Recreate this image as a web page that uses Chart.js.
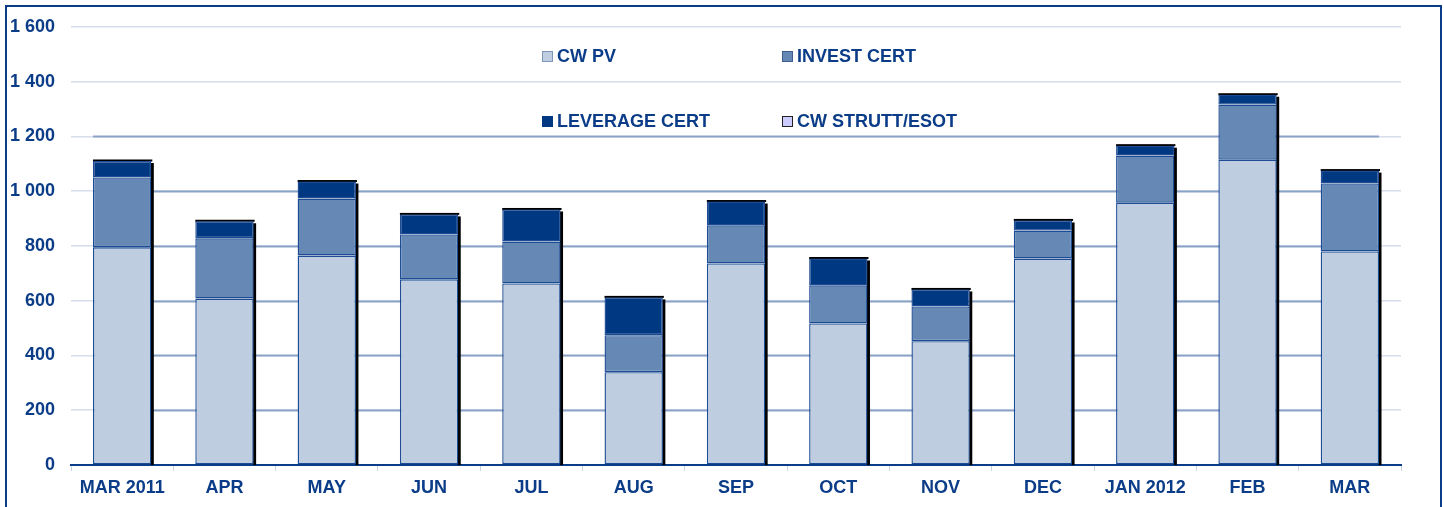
<!DOCTYPE html>
<html>
<head>
<meta charset="utf-8">
<script src="https://cdn.jsdelivr.net/npm/chart.js@4.4.1/dist/chart.umd.min.js"></script>
<style>
    html, body { margin: 0; padding: 0; background: #fff; }
    .wrap { position: relative; width: 1444px; height: 507px; overflow: hidden; }
    .frame {
        position: absolute; left: 5px; top: 5px; width: 1433px; height: 600px;
        border: 2px solid #0B3C87; pointer-events: none;
    }
    .legend {
        position: absolute; left: 542px; top: 45px;
        display: grid; grid-template-columns: 240px 240px; grid-auto-rows: 65px;
        font: bold 18px "Liberation Sans", Arial, sans-serif; color: #0B3C87;
    }
    .legend div { display: flex; align-items: center; height: 22px; }
    .legend span.box { display: inline-block; width: 9px; height: 9px; margin-right: 4px; }
</style>
</head>
<body>
<div class="wrap">
    <canvas id="chart"></canvas>
    <div class="legend" id="legend"></div>
    <div class="frame"></div>
</div>
<script>
// 数据
const months = ['MAR 2011', 'APR', 'MAY', 'JUN', 'JUL', 'AUG', 'SEP', 'OCT', 'NOV', 'DEC', 'JAN 2012', 'FEB', 'MAR'];
const cwPv = [795, 608, 765, 678, 663, 339, 736, 517, 452, 754, 958, 1115, 780];
const investCert = [255, 220, 208, 164, 153, 135, 139, 139, 127, 102, 172, 201, 248];
const leverageCert = [60, 62, 62, 73, 117, 138, 87, 98, 62, 37, 36, 36, 47];
const cwStrutt = [0, 0, 0, 0, 0, 0, 0, 0, 0, 0, 0, 0, 0];
const yTicks = [0, 200, 400, 600, 800, 1000, 1200, 1400, 1600];
const darkGridValues = [200, 400, 600, 800, 1000, 1200];

const textColor = '#0B3C87';
const font18 = { family: '"Liberation Sans", Arial, sans-serif', size: 18, weight: 'bold' };

const series = [
    { label: 'CW PV', data: cwPv, fill: '#BFCDE0', box: '#7F96B8' },
    { label: 'INVEST CERT', data: investCert, fill: '#6688B4', box: '#3F5F8C' },
    { label: 'LEVERAGE CERT', data: leverageCert, fill: '#003882', box: '#003882' },
    { label: 'CW STRUTT/ESOT', data: cwStrutt, fill: '#CCCCFF', box: '#222' }
];

function fmt(v) {
    return String(v).replace(/\B(?=(\d{3})+(?!\d))/g, ' ');
}

// 背景深色网格线 + 柱子阴影
const decoPlugin = {
    id: 'deco',
    beforeDatasetsDraw(chart) {
        const ctx = chart.ctx;
        const y = chart.scales.y;
        const first = chart.getDatasetMeta(0).data[0];
        const last = chart.getDatasetMeta(0).data[months.length - 1];
        const x0 = first.x - first.width / 2;
        const x1 = last.x + last.width / 2;
        ctx.save();
        ctx.strokeStyle = '#8BA3C7';
        ctx.lineWidth = 2;
        darkGridValues.forEach(v => {
            const py = Math.round(y.getPixelForValue(v)) + 0.5;
            ctx.beginPath();
            ctx.moveTo(x0, py);
            ctx.lineTo(x1, py);
            ctx.stroke();
        });
        // 阴影
        ctx.fillStyle = '#000';
        months.forEach((m, i) => {
            const bar = chart.getDatasetMeta(0).data[i];
            const total = cwPv[i] + investCert[i] + leverageCert[i] + cwStrutt[i];
            const top = y.getPixelForValue(total);
            const base = y.getPixelForValue(0);
            const left = bar.x - bar.width / 2;
            const right = bar.x + bar.width / 2;
            ctx.fillRect(left, top - 1.5, right - left + 1, 2);
            ctx.fillRect(right - 0.5, top + 2, 3, base - top - 2);
        });
        ctx.restore();
    }
};

const chart = new Chart(document.getElementById('chart'), {
    type: 'bar',
    data: {
        labels: months,
        datasets: series.map(s => ({
            label: s.label,
            data: s.data,
            backgroundColor: s.fill,
            borderColor: '#1E4C94',
            borderWidth: s.data.some(v => v > 0) ? 1.4 : 0,
            borderSkipped: false,
            categoryPercentage: 1,
            barPercentage: 0.57
        }))
    },
    options: {
        responsive: true,
        maintainAspectRatio: false,
        animation: false,
        layout: { padding: { top: 26, right: 43, left: 0, bottom: 0 } },
        plugins: {
            legend: { display: false },
            tooltip: { enabled: false }
        },
        scales: {
            x: {
                stacked: true,
                grid: { drawOnChartArea: false, color: '#C9D5E5', tickLength: 6, lineWidth: 1 },
                border: { color: textColor, width: 2 },
                ticks: { color: textColor, font: font18, padding: 6, maxRotation: 0 },
                afterFit(scale) { scale.height = 42; }
            },
            y: {
                stacked: true,
                min: 0,
                max: 1600,
                afterBuildTicks(scale) { scale.ticks = yTicks.map(v => ({ value: v })); },
                grid: {
                    drawTicks: false,
                    color: ctx => ctx.tick && ctx.tick.value === 0 ? 'rgba(0,0,0,0)' : '#D5DEEA',
                    lineWidth: 1.5
                },
                border: { display: false },
                ticks: { color: textColor, font: font18, padding: 16, callback: v => fmt(v) },
                afterFit(scale) { scale.width = 71; }
            }
        }
    },
    plugins: [decoPlugin]
});

// 图例
const legend = document.getElementById('legend');
series.forEach(s => {
    const item = document.createElement('div');
    const box = document.createElement('span');
    box.className = 'box';
    box.style.background = s.fill;
    box.style.border = '1px solid ' + s.box;
    item.appendChild(box);
    item.appendChild(document.createTextNode(s.label));
    legend.appendChild(item);
});
</script>
</body>
</html>
